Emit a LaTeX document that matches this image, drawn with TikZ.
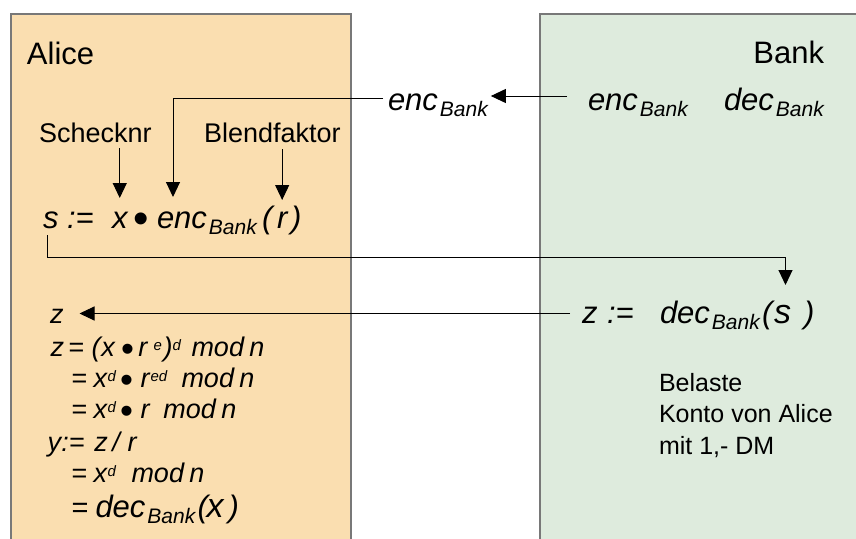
\documentclass[tikz,border=0pt]{standalone}
\usepackage{fontspec}
\setmainfont{Liberation Sans}
\usetikzlibrary{arrows.meta,calc}
\definecolor{alicefill}{RGB}{250,222,176}
\definecolor{bankfill}{RGB}{222,235,221}
\definecolor{boxline}{RGB}{120,120,120}
\newcommand\fs[1]{\fontsize{#1}{#1}\selectfont}
\newcommand\sbs[1]{\kern2pt\raisebox{-6.5pt}{\fs{21}#1}}
\newcommand\sps[1]{\raisebox{6pt}{\fs{15}#1}}
\newcommand\tkat[2]{\rlap{\hspace*{#1pt}#2}}
\begin{document}
\begin{tikzpicture}[x=1pt,y=-1pt,
  party/.style={draw=boxline, line width=1.3pt},
  lbl/.style={inner sep=0pt, outer sep=0pt, font=\fs{31}},
  small/.style={inner sep=0pt, outer sep=0pt, font=\fs{27}},
  math/.style={inner sep=0pt, outer sep=0pt, font=\fs{31}\itshape},
  calcl/.style={inner sep=0pt, outer sep=0pt, font=\fs{27}\itshape},
  bigdot/.style={inner sep=0pt, outer sep=0pt, font=\fs{44}},
  dot/.style={inner sep=0pt, outer sep=0pt, font=\fs{37}},
  arr/.style={line width=1pt, -{Triangle[length=15pt,width=14pt]}}
]
\useasboundingbox (0,0) rectangle (856,538);
\clip (0,0) rectangle (856,538);
\path[party, fill=alicefill] (11,14) rectangle (351,560);
\path[party, fill=bankfill] (540,14) rectangle (880,560);

% headings
\node[lbl, anchor=base west] (alice) at (27,64) {Alice};
\node[lbl, anchor=base east] (bank) at (824,63) {Bank};

% keys
\node[math, anchor=base west] (encR) at (588,110) {enc\sbs{Bank}};
\node[math, anchor=base west] (decR) at (724,110) {dec\sbs{Bank}};
\node[math, anchor=base west] (encL) at (388,110) {enc\sbs{Bank}};

\node[small, anchor=base west] (scheck) at (39,142) {Schecknr};
\node[small, anchor=base west] (blend) at (204,142) {Blendfaktor};

% s formula
\node[math, anchor=base west] (sS) at (43,228) {s};
\node[math, anchor=base west] (asgS) at (67,228) {:=};
\node[math, anchor=base west] (xS) at (112,228) {x};
\node[bigdot] (dotS) at (141.5,223) {•};
\node[math, anchor=base west] (encS) at (157,228) {enc\sbs{Bank}};
\node[math, anchor=base west] (lpS) at (262,228) {(};
\node[math, anchor=base west] (rS) at (277,228) {r};
\node[math, anchor=base west] (rpS) at (291,228) {)};

% bank formula
\node[math, anchor=base west] (zB) at (582,323) {z};
\node[math, anchor=base west] (asgB) at (607,323) {:=};
\node[math, anchor=base west] (decB) at (660,323) {dec\sbs{Bank}};
\node[math, anchor=base west] (lpB) at (762,323) {(};
\node[math, anchor=base west, font=\fs{34}\itshape] (sB) at (774,323) {s};
\node[math, anchor=base west] (rpB) at (804,323) {)};

\node[inner sep=0pt, outer sep=0pt, font=\fontsize{25}{31.5}\selectfont, align=left, anchor=north west] (belaste) at (659,373) {Belaste\\Konto von Alice\\mit 1,- DM};

% Alice calculation
\node[calcl, anchor=base west] (zL) at (50,323) {z};
\node[calcl, anchor=base west] (l2) at (50,356) {\tkat{0}{z}\tkat{18}{\upshape =}\tkat{41}{(}\tkat{51}{x}\tkat{88}{r}\tkat{103}{\sps{e}}\tkat{113}{)}\tkat{122}{\sps{d}}\tkat{141}{mod}\tkat{199}{n}};
\node[dot] (dot2) at (127.5,352.5) {•};
\node[calcl, anchor=base west] (l3) at (71,387) {\tkat{0}{\upshape =}\tkat{22}{x}\tkat{36}{\sps{d}}\tkat{69}{r}\tkat{79}{\sps{ed}}\tkat{110}{mod}\tkat{168}{n}};
\node[dot] (dot3) at (126.5,383.5) {•};
\node[calcl, anchor=base west] (l4) at (71,418) {\tkat{0}{\upshape =}\tkat{22}{x}\tkat{36}{\sps{d}}\tkat{69}{r}\tkat{92}{mod}\tkat{150}{n}};
\node[dot] (dot4) at (126.5,414.5) {•};
\node[calcl, anchor=base west] (l5) at (47,451) {\tkat{0}{y}\tkat{14}{:=}\tkat{47}{z}\tkat{65}{/}\tkat{80}{r}};
\node[calcl, anchor=base west] (l6) at (71,482) {\tkat{0}{\upshape =}\tkat{22}{x}\tkat{36}{\sps{d}}\tkat{60}{mod}\tkat{118}{n}};
\node[calcl, anchor=base west] (l7) at (71,517) {\tkat{0}{\fs{29}\upshape =}\tkat{24}{\fs{31}dec\sbs{Bank}}\tkat{126}{\fs{31}(}\tkat{135}{\fs{34}x}\tkat{157}{\fs{31})}};

% connectors
\draw[arr] ($(encR.base west)+(-21,-14)$) -- ($(encL.base east)+(3,-14)$);
\draw[arr] ($(encL.base west)+(-5,-12)$) -| ($(encS.base west)+(16,-31)$);
\draw[arr] ($(xS.base |- scheck.base)+(0,6)$) -- ($(xS.base)+(0,-30)$);
\draw[arr] ($(rS.base |- blend.base)+(0,7)$) -- ($(rS.base)+(0,-28)$);
\draw[arr] ($(sS.base)+(-3,7)$) -- ++(0,22) -| ($(sB.base)+(3,-38)$);
\draw[arr] ($(zB.base west)+(-12,-9.5)$) -- ($(zL.base east)+(16,-9.5)$);
\end{tikzpicture}
\end{document}
